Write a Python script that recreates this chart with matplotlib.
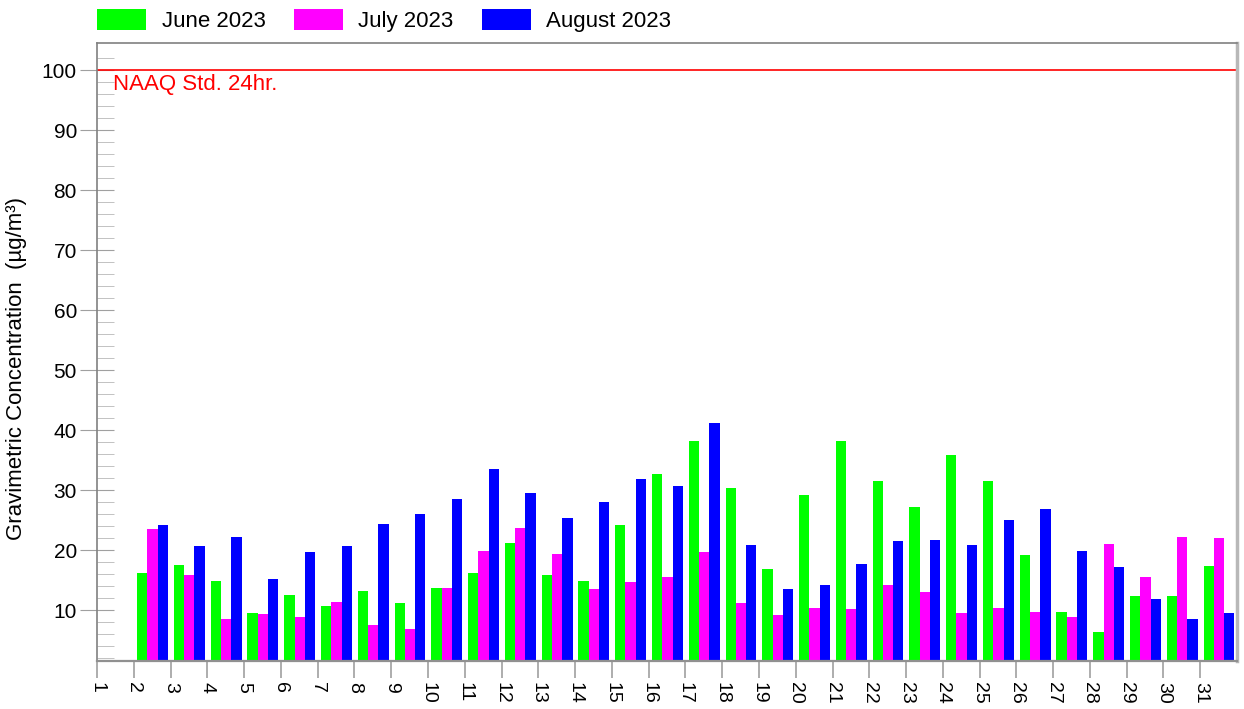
import numpy as np
import matplotlib
matplotlib.use("Agg")
import matplotlib.pyplot as plt
from matplotlib.patches import Patch

plt.rcParams['font.family'] = ['Liberation Sans', 'DejaVu Sans']

days = list(range(2, 32))
june = [16.2, 17.5, 14.9, 9.5, 12.5, 10.6, 13.2, 11.2, 13.7, 16.2,
        21.2, 15.9, 14.9, 24.2, 32.7, 38.2, 30.4, 16.9, 29.2, 38.2,
        31.5, 27.2, 35.9, 31.5, 19.1, 9.6, 6.4, 12.4, 12.4, 17.4]
july = [23.5, 15.8, 8.5, 9.4, 8.9, 11.4, 7.5, 6.8, 13.7, 19.9,
        23.7, 19.3, 13.5, 14.7, 15.5, 19.7, 11.1, 9.2, 10.4, 10.1,
        14.1, 13.0, 9.5, 10.3, 9.6, 8.9, 21.0, 15.5, 22.2, 22.0]
august = [24.2, 20.7, 22.2, 15.1, 19.6, 20.7, 24.4, 26.0, 28.5, 33.5,
          29.5, 25.4, 28.0, 31.9, 30.7, 41.2, 20.9, 13.5, 14.2, 17.7,
          21.5, 21.7, 20.9, 25.0, 26.8, 19.8, 17.2, 11.9, 8.5, 9.5]
series = [("June 2023", june, "#00ff00"),
          ("July 2023", july, "#ff00ff"),
          ("August 2023", august, "#0000ff")]
naaq = 100

fig = plt.figure(figsize=(12.44, 7.09), dpi=100)
ax = fig.add_axes([0.078, 0.0677, 0.9164, 0.8716])

w = 0.28
x = np.array(days) + 0.51
for k, (name, vals, col) in enumerate(series):
    ax.bar(x + (k - 1) * w, vals, width=w, color=col, linewidth=0)

ax.axhline(naaq, color="#ff0000", lw=1.2)
ax.text(1.43, naaq - 2.4, "NAAQ Std. 24hr.", color="#ff0000", fontsize=16,
        va="center", ha="left")

ax.set_xlim(1, 32)
ax.set_ylim(1.5, 104.5)
ax.set_xticks(range(1, 32))
ax.set_xticklabels([str(d) for d in range(1, 32)], rotation=270, fontsize=14)
ax.set_yticks(range(10, 101, 10))
ax.set_yticks(np.arange(2, 104, 2), minor=True)
ax.tick_params(axis="y", which="major", direction="inout", length=25,
               color="#a0a0a0", labelsize=15, pad=2)
ax.tick_params(axis="y", which="minor", direction="in", length=12,
               color="#b8b8b8")
ax.tick_params(axis="x", which="major", direction="out", length=12,
               color="#a0a0a0", width=1.2, pad=3)
ax.set_ylabel("Gravimetric Concentration  (µg/m³)", fontsize=16)
ax.yaxis.set_label_coords(-0.061, 0.474)

for s in ["left", "top"]:
    ax.spines[s].set_color("#808080")
    ax.spines[s].set_linewidth(1.2)
ax.spines["bottom"].set_color("#909090")
ax.spines["bottom"].set_linewidth(1.6)
ax.spines["right"].set_color("#b8b8b8")
ax.spines["right"].set_linewidth(2.5)

handles = [Patch(facecolor=c, edgecolor="none", label=n) for n, v, c in series]
fig.legend(handles=handles, loc="upper left", bbox_to_anchor=(0.064, 1.013),
           ncol=3, frameon=False, fontsize=16, handlelength=2.2,
           handleheight=1.1, handletextpad=0.7, columnspacing=1.27,
           borderpad=0.3)

fig.savefig("out.png", dpi=100)
